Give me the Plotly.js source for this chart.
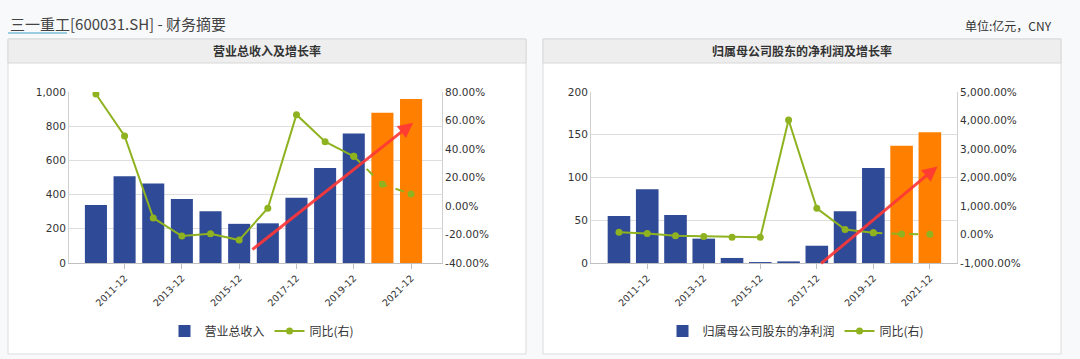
<!DOCTYPE html>
<html>
<head>
<meta charset="utf-8">
<script src="https://cdn.plot.ly/plotly-3.0.1.min.js"></script>
<style>
  html, body { margin: 0; padding: 0; background: #f8f9fa; }
  #chart { width: 1080px; height: 359px; }
</style>
</head>
<body>
<div id="chart"></div>
<script>
// ---------------- DATA ----------------
const categories = ['2010-12','2011-12','2012-12','2013-12','2014-12','2015-12','2016-12','2017-12','2018-12','2019-12','2020-12','2021-12'];
const xTickLabels = ['2011-12','2013-12','2015-12','2017-12','2019-12','2021-12'];
const isForecast = [false,false,false,false,false,false,false,false,false,false,true,true];

// Left chart: 营业总收入 (亿元) and 同比 (%)
const revenue = [339, 507, 465, 374, 303, 229, 232, 381, 556, 757, 879, 959];
const revenueGrowth = [78.6, 49.1, -8.4, -21.1, -19.4, -23.9, -1.6, 64.1, 45.1, 34.9, 15.2, 8.4];

// Right chart: 归属母公司股东的净利润 (亿元) and 同比 (%)
const netProfit = [55, 86.2, 56.1, 28.5, 5.9, 1.1, 1.9, 20.2, 60.4, 111, 137, 153];
const netProfitGrowth = [81, 35, -46, -70, -95, -98, 4018, 919, 177, 60, 15, 8];

// Tick values / labels
const revTickVals = [0, 200, 400, 600, 800, 1000];
const revTickText = ['0', '200', '400', '600', '800', '1,000'];
const revGrowthTickVals = [-40, -20, 0, 20, 40, 60, 80];
const revGrowthTickText = ['-40.00%', '-20.00%', '0.00%', '20.00%', '40.00%', '60.00%', '80.00%'];
const profTickVals = [0, 50, 100, 150, 200];
const profTickText = ['0', '50', '100', '150', '200'];
const profGrowthTickVals = [-1000, 0, 1000, 2000, 3000, 4000, 5000];
const profGrowthTickText = ['-1,000.00%', '0.00%', '1,000.00%', '2,000.00%', '3,000.00%', '4,000.00%', '5,000.00%'];

// Trend arrows (category index, left-axis value): [start, end]
const revTrendX = [5.41, 11.07];
const revTrendY = [72, 820];
const profTrendX = [7.1, 11.27];
const profTrendY = [-2, 113];

// ---------------- STYLE ----------------
const BLUE = '#2f4a96';
const ORANGE = '#ff7f00';
const GREEN = '#8fb220';
const RED = 'rgba(255,55,55,0.9)';
const W = 1080, H = 359;
const px = x => x / W;
const py = y => 1 - y / H;
const barColors = isForecast.map(f => f ? ORANGE : BLUE);
const lastActual = isForecast.indexOf(true) - 1;
const cn = '"Noto Sans CJK SC", "Noto Sans", sans-serif';
const numFont = { family: '"DejaVu Sans", sans-serif', size: 10.5, color: '#333' };

function lineTraces(y, xa, ya, legend) {
  const solidX = categories.slice(0, lastActual + 1);
  const solidY = y.slice(0, lastActual + 1);
  const dashX = categories.slice(lastActual);
  const dashY = y.slice(lastActual);
  return [
    { type: 'scatter', mode: 'lines+markers', name: '同比(右)', x: solidX, y: solidY,
      xaxis: xa, yaxis: ya, legend: legend,
      line: { color: GREEN, width: 2 }, marker: { color: GREEN, size: 7 } },
    { type: 'scatter', mode: 'lines+markers', name: '同比(右)', x: dashX, y: dashY,
      xaxis: xa, yaxis: ya, legend: legend, showlegend: false,
      line: { color: GREEN, width: 2, dash: 'dash' }, marker: { color: GREEN, size: 7 } }
  ];
}

const data = [
  { type: 'bar', name: '营业总收入', x: categories, y: revenue, xaxis: 'x', yaxis: 'y',
    legend: 'legend', width: 0.77, marker: { color: barColors } },
  ...lineTraces(revenueGrowth, 'x', 'y2', 'legend'),
  { type: 'bar', name: '归属母公司股东的净利润', x: categories, y: netProfit, xaxis: 'x2', yaxis: 'y3',
    legend: 'legend2', width: 0.8, marker: { color: barColors } },
  ...lineTraces(netProfitGrowth, 'x2', 'y4', 'legend2')
];

const xCommon = {
  type: 'category', categoryorder: 'array', categoryarray: categories,
  tickmode: 'array', tickvals: xTickLabels, ticktext: xTickLabels,
  tickangle: -45, tickfont: { family: '"DejaVu Sans", sans-serif', size: 9.5, color: '#333' },
  ticks: 'outside', ticklen: 5, tickcolor: '#c0c0c0',
  showline: true, linecolor: '#c0c0c0', linewidth: 1, showgrid: false, zeroline: false,
  fixedrange: true
};
const yLeftCommon = {
  showline: true, linecolor: '#d0d0d0', showgrid: true, gridcolor: '#dedede', gridwidth: 1,
  zeroline: false, tickfont: numFont, ticks: '', tickmode: 'array', fixedrange: true
};
const yRightCommon = {
  side: 'right', showline: true, linecolor: '#d0d0d0', showgrid: false, zeroline: false,
  tickfont: numFont, ticks: '', tickmode: 'array', fixedrange: true
};

const plotTop = 92, plotBot = 263;
const yDomain = [py(plotBot), py(plotTop)];

const shapes = [
  // panels
  { type: 'rect', xref: 'paper', yref: 'paper', x0: px(8), x1: px(526), y0: py(354), y1: py(39),
    fillcolor: '#ffffff', line: { color: '#dcdcdc', width: 1 }, layer: 'below' },
  { type: 'rect', xref: 'paper', yref: 'paper', x0: px(543), x1: px(1061), y0: py(354), y1: py(39),
    fillcolor: '#ffffff', line: { color: '#dcdcdc', width: 1 }, layer: 'below' },
  // headers
  { type: 'rect', xref: 'paper', yref: 'paper', x0: px(8), x1: px(526), y0: py(63), y1: py(39),
    fillcolor: '#eeeeee', line: { color: '#d8d8d8', width: 1 }, layer: 'below' },
  { type: 'rect', xref: 'paper', yref: 'paper', x0: px(543), x1: px(1061), y0: py(63), y1: py(39),
    fillcolor: '#eeeeee', line: { color: '#d8d8d8', width: 1 }, layer: 'below' },
  // link underline
  { type: 'line', xref: 'paper', yref: 'paper', x0: px(8), x1: px(67), y0: py(33), y1: py(33),
    line: { color: '#3fa3cc', width: 1 } }
];

const annotations = [
  { xref: 'paper', yref: 'paper', x: px(8), y: py(23), xanchor: 'left', yanchor: 'middle', showarrow: false,
    text: '三一重工[600031.SH] - 财务摘要', font: { family: cn, size: 15, color: '#444' } },
  { xref: 'paper', yref: 'paper', x: px(1054), y: py(25), xanchor: 'right', yanchor: 'middle', showarrow: false,
    text: '单位:亿元，CNY', font: { family: cn, size: 12, color: '#333' } },
  { xref: 'paper', yref: 'paper', x: px(267), y: py(51), xanchor: 'center', yanchor: 'middle', showarrow: false,
    text: '<b>营业总收入及增长率</b>', font: { family: cn, size: 12, color: '#333' } },
  { xref: 'paper', yref: 'paper', x: px(802), y: py(51), xanchor: 'center', yanchor: 'middle', showarrow: false,
    text: '<b>归属母公司股东的净利润及增长率</b>', font: { family: cn, size: 12, color: '#333' } },
  // trend arrows
  { xref: 'x', yref: 'y', axref: 'x', ayref: 'y', x: revTrendX[1], y: revTrendY[1], ax: revTrendX[0], ay: revTrendY[0],
    text: '', showarrow: true, arrowhead: 2, arrowsize: 1, arrowwidth: 3, arrowcolor: RED },
  { xref: 'x2', yref: 'y3', axref: 'x2', ayref: 'y3', x: profTrendX[1], y: profTrendY[1], ax: profTrendX[0], ay: profTrendY[0],
    text: '', showarrow: true, arrowhead: 2, arrowsize: 1, arrowwidth: 3, arrowcolor: RED }
];

const legendCommon = {
  orientation: 'h', xanchor: 'center', yanchor: 'middle', bgcolor: 'rgba(0,0,0,0)',
  font: { family: cn, size: 12, color: '#333' }, itemwidth: 30, tracegroupgap: 0
};

const layout = {
  width: W, height: H,
  margin: { l: 0, r: 0, t: 0, b: 0 },
  paper_bgcolor: '#f8f9fa', plot_bgcolor: 'rgba(0,0,0,0)',
  showlegend: true,
  barmode: 'group',
  xaxis: Object.assign({}, xCommon, { domain: [px(69), px(442)], anchor: 'y', range: [-0.94, 12.08] }),
  yaxis: Object.assign({}, yLeftCommon, { domain: yDomain, anchor: 'x', range: [0, 1000],
    tickvals: revTickVals, ticktext: revTickText }),
  yaxis2: Object.assign({}, yRightCommon, { overlaying: 'y', anchor: 'x', range: [-40, 80],
    tickvals: revGrowthTickVals, ticktext: revGrowthTickText }),
  xaxis2: Object.assign({}, xCommon, { domain: [px(591), px(957)], anchor: 'y3', range: [-0.99, 11.96] }),
  yaxis3: Object.assign({}, yLeftCommon, { domain: yDomain, anchor: 'x2', range: [0, 200],
    tickvals: profTickVals, ticktext: profTickText }),
  yaxis4: Object.assign({}, yRightCommon, { overlaying: 'y3', anchor: 'x2', range: [-1000, 5000],
    tickvals: profGrowthTickVals, ticktext: profGrowthTickText }),
  legend: Object.assign({}, legendCommon, { x: px(262), y: py(331) }),
  legend2: Object.assign({}, legendCommon, { x: px(796), y: py(331) }),
  shapes: shapes,
  annotations: annotations
};

Plotly.newPlot('chart', data, layout, { displayModeBar: false, staticPlot: true });
</script>
</body>
</html>
